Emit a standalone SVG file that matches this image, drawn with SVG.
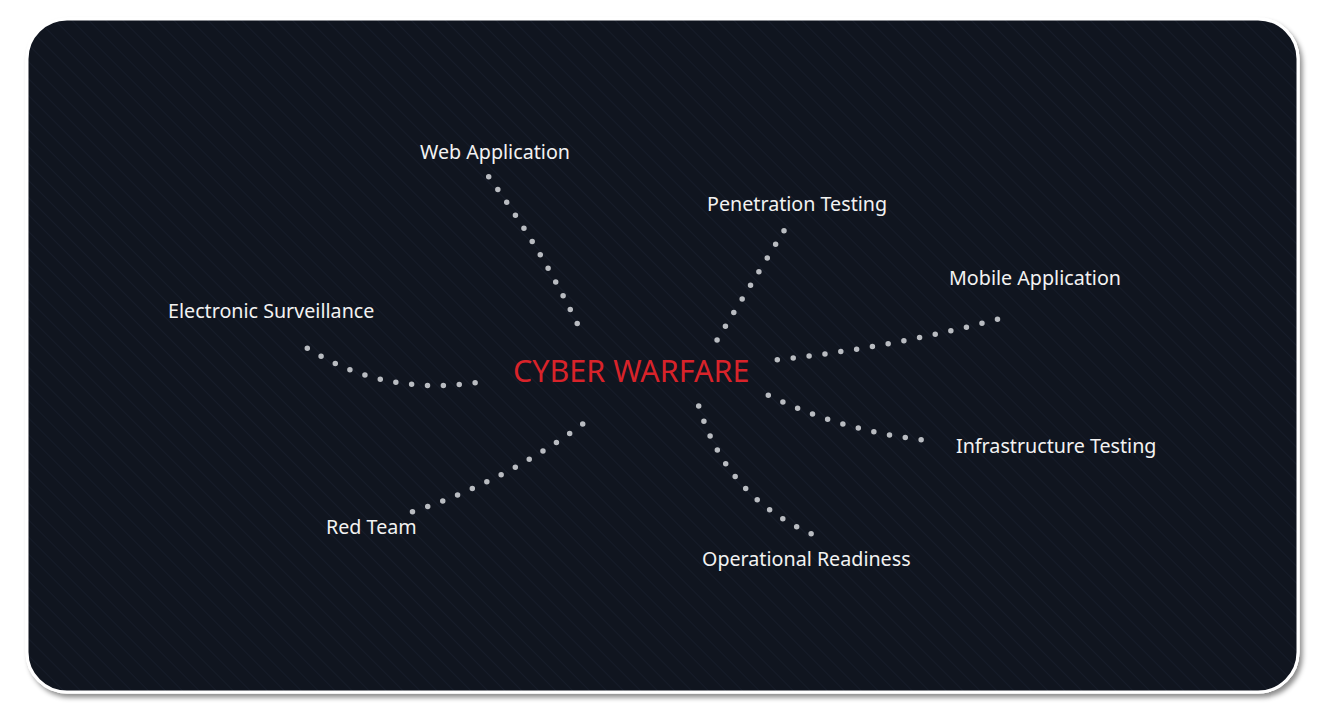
<svg xmlns="http://www.w3.org/2000/svg" width="1325" height="710" viewBox="0 0 1325 710">
  <defs>
    <pattern id="stripes" patternUnits="userSpaceOnUse" width="12" height="12" patternTransform="rotate(-45)">
      <rect width="12" height="12" fill="#10151f"/>
      <line x1="0" y1="0" x2="0" y2="12" stroke="#192030" stroke-width="1.2"/>
    </pattern>
    <filter id="shadow" x="-5%" y="-5%" width="110%" height="115%">
      <feDropShadow dx="3" dy="4" stdDeviation="2.5" flood-color="#000" flood-opacity="0.45"/>
    </filter>
    <clipPath id="cardclip">
      <rect x="27" y="19" width="1271" height="673" rx="40" ry="40"/>
    </clipPath>
  </defs>
  <style>
    .lbl { font-family: "Noto Sans", "Open Sans", sans-serif; font-size: 19.7px; fill: #f2f2f2; }
    .title { font-family: "Noto Sans", "Open Sans", sans-serif; font-size: 30.5px; fill: #d8232a; }
    .dots { fill: none; stroke: #b9bcc1; stroke-width: 5.5; stroke-linecap: round; stroke-dasharray: 0 0.999; }
  </style>
  <rect width="1325" height="710" fill="#ffffff"/>
  <g id="card">
    <rect x="27" y="19" width="1271" height="673" rx="40" ry="40" fill="#10151f" stroke="#ffffff" stroke-width="3" filter="url(#shadow)"/>
    <rect x="27" y="19" width="1271" height="673" rx="40" ry="40" fill="url(#stripes)" clip-path="url(#cardclip)"/>
    <rect x="27" y="19" width="1271" height="673" rx="40" ry="40" fill="none" stroke="#ffffff" stroke-width="3"/>
  </g>
  <g id="connectors">
    <path class="dots" pathLength="11" d="M488.7,176.7 Q539.6,246.2 577.3,323.7"/>
    <path class="dots" pathLength="8" d="M784,230.7 L717,340"/>
    <path class="dots" pathLength="14" d="M777.3,359.7 Q889.1,347.9 997.7,319.3"/>
    <path class="dots" pathLength="10" d="M768.3,395.3 Q841.8,430.5 921.3,439.7"/>
    <path class="dots" pathLength="11" d="M698.7,406 Q726.4,496.5 811.3,533.7"/>
    <path class="dots" pathLength="12" d="M582.7,424 Q505.1,481.5 412.3,511.7"/>
    <path class="dots" pathLength="11" d="M307.3,348.3 Q383.3,395.9 475.3,382.7"/>
  </g>
  <g id="node-center">
    <text class="title" x="513" y="382">CYBER WARFARE</text>
  </g>
  <g id="node-web">
    <text class="lbl" x="420" y="159">Web Application</text>
  </g>
  <g id="node-pen">
    <text class="lbl" x="707" y="211">Penetration Testing</text>
  </g>
  <g id="node-mobile">
    <text class="lbl" x="949" y="285">Mobile Application</text>
  </g>
  <g id="node-infra">
    <text class="lbl" x="956" y="453">Infrastructure Testing</text>
  </g>
  <g id="node-ops">
    <text class="lbl" x="702" y="566">Operational Readiness</text>
  </g>
  <g id="node-red">
    <text class="lbl" x="326" y="534">Red Team</text>
  </g>
  <g id="node-elec">
    <text class="lbl" x="168" y="318">Electronic Surveillance</text>
  </g>
</svg>
